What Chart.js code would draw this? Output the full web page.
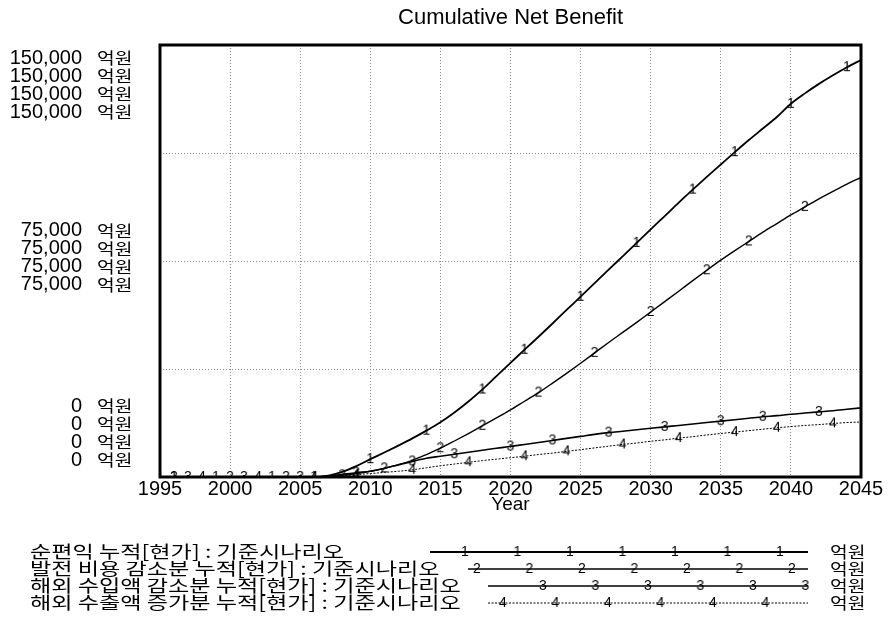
<!DOCTYPE html>
<html>
<head>
<meta charset="utf-8">
<script src="https://cdn.jsdelivr.net/npm/chart.js@4/dist/chart.umd.min.js"></script>
<style>
    html, body { margin: 0; padding: 0; background: #fff; }
</style>
</head>
<body>
<canvas id="chart" width="888" height="633"></canvas>
<script>
// ===================================
// CUMULATIVE NET BENEFIT (Vensim style)
// ===================================

const chartTitle = 'Cumulative Net Benefit';
const xTitle = 'Year';
const unitLabel = '억원';

const years = [
    1995, 1996, 1997, 1998, 1999, 2000, 2001, 2002, 2003, 2004,
    2005, 2006, 2007, 2008, 2009, 2010, 2011, 2012, 2013, 2014,
    2015, 2016, 2017, 2018, 2019, 2020, 2021, 2022, 2023, 2024,
    2025, 2026, 2027, 2028, 2029, 2030, 2031, 2032, 2033, 2034,
    2035, 2036, 2037, 2038, 2039, 2040, 2041, 2042, 2043, 2044,
    2045
];

const seriesNames = [
    '순편익 누적[현가] : 기준시나리오',
    '발전 비용 감소분 누적[현가] : 기준시나리오',
    '해외 수입액 감소분 누적[현가] : 기준시나리오',
    '해외 수출액 증가분 누적[현가] : 기준시나리오'
];

// values in 억원, one per year
const netBenefit = [
    0, 0, 0, 0, 0, 0, 0, 0, 0, 0,
    0, 0, 500, 1800, 3800, 6200, 8500, 10900, 13400, 16100,
    19000, 22400, 26200, 30400, 35000, 39600, 44200, 48700, 53300, 58000,
    62600, 67300, 72000, 76600, 81300, 86000, 90600, 95300, 99800, 104200,
    108500, 112800, 117000, 121000, 125000, 129600, 133200, 136500, 139500, 142300,
    144800
];
const genCostSaving = [
    0, 0, 0, 0, 0, 0, 0, 0, 0, 0,
    0, 0, 200, 600, 1200, 2000, 3000, 4300, 5800, 7800,
    10000, 12500, 15100, 17800, 20500, 23300, 26300, 29300, 32600, 36000,
    39500, 43100, 46700, 50200, 53700, 57300, 60900, 64500, 68200, 71800,
    75300, 78600, 81800, 85000, 88000, 91000, 93800, 96600, 99200, 101700,
    104000
];
const importSaving = [
    0, 0, 0, 0, 0, 0, 0, 0, 0, 0,
    0, 0, 300, 900, 1500, 2000, 3000, 4200, 5400, 6500,
    7200, 7900, 8600, 9300, 10000, 10600, 11300, 12000, 12700, 13400,
    14100, 14800, 15400, 15900, 16400, 16900, 17400, 17900, 18400, 18900,
    19400, 19900, 20400, 20900, 21300, 21800, 22200, 22600, 23000, 23500,
    24000
];
const exportGain = [
    0, 0, 0, 0, 0, 0, 0, 0, 0, 0,
    0, 0, 100, 400, 800, 1200, 1600, 2000, 2500, 3200,
    3900, 4500, 5100, 5700, 6200, 6700, 7200, 7800, 8300, 8900,
    9500, 10100, 10700, 11300, 11800, 12400, 12900, 13500, 14000, 14600,
    15100, 15600, 16100, 16600, 17100, 17500, 17900, 18200, 18600, 18900,
    19100
];

// years where the numbered markers sit on each line
const markerYears = [
    [1996, 1999, 2003, 2006, 2010, 2014, 2018, 2021, 2025, 2029, 2033, 2036, 2040, 2044],
    [1996, 2000, 2004, 2008, 2011, 2015, 2018, 2022, 2026, 2030, 2034, 2037, 2041],
    [1997, 2001, 2005, 2009, 2013, 2016, 2020, 2023, 2027, 2031, 2035, 2038, 2042],
    [1998, 2002, 2006, 2009, 2013, 2017, 2021, 2024, 2028, 2032, 2036, 2039, 2043]
];

const yTicks = [150000, 75000, 0];
const xTicks = [1995, 2000, 2005, 2010, 2015, 2020, 2025, 2030, 2035, 2040, 2045];

const FONT = '"Liberation Sans", "Noto Sans CJK KR", Arial, sans-serif';
const KFONT = '"Noto Sans CJK KR", "Liberation Sans", sans-serif';

// small canvas with a digit, used as point style
function makeDigit(d) {
    const c = document.createElement('canvas');
    c.width = 12;
    c.height = 16;
    const g = c.getContext('2d');
    g.fillStyle = '#000';
    g.font = '14px ' + FONT;
    g.textAlign = 'center';
    g.textBaseline = 'middle';
    g.fillText(String(d), 6, 8);
    return c;
}

const digits = [makeDigit(1), makeDigit(2), makeDigit(3), makeDigit(4)];
const allSeries = [netBenefit, genCostSaving, importSaving, exportGain];
const lineWidths = [1.8, 1.4, 1.6, 1];
const lineDashes = [[], [], [], [2, 1.5]];

const datasets = allSeries.map((values, i) => ({
    label: seriesNames[i],
    data: years.map((yr, j) => ({ x: yr, y: values[j] })),
    borderColor: '#000',
    borderWidth: lineWidths[i],
    borderDash: lineDashes[i],
    cubicInterpolationMode: 'monotone',
    pointStyle: digits[i],
    pointRadius: (ctx) => markerYears[i].includes(years[ctx.dataIndex]) ? 5 : 0,
    pointHoverRadius: 0,
    fill: false
}));

// draw text stretched horizontally
function wideText(ctx, text, x, y, sx) {
    ctx.save();
    ctx.translate(x, y);
    ctx.scale(sx, 1);
    ctx.fillText(text, 0, 0);
    ctx.restore();
}

// title, frame, stacked y labels and Vensim-like legend
const decorPlugin = {
    id: 'decor',
    afterDraw(chart) {
        const ctx = chart.ctx;
        const area = chart.chartArea;
        const yScale = chart.scales.y;
        const midX = (area.left + area.right) / 2;
        ctx.save();

        // title
        ctx.fillStyle = '#000';
        ctx.font = '22px ' + FONT;
        ctx.textAlign = 'center';
        ctx.textBaseline = 'middle';
        ctx.fillText(chartTitle, midX, 18);

        // x axis title
        ctx.font = '19px ' + FONT;
        ctx.fillText(xTitle, midX, 505);

        // frame
        ctx.strokeStyle = '#000';
        ctx.lineWidth = 3;
        ctx.strokeRect(area.left, area.top, area.right - area.left, area.bottom - area.top);

        // stacked y labels, one line per series
        const lineGap = 18;
        yTicks.forEach((v, k) => {
            const py = yScale.getPixelForValue(v);
            let firstY;
            if (k === 0) firstY = py + 13;
            else if (k === yTicks.length - 1) firstY = py - 17 - lineGap * 3;
            else firstY = py - 3.5 - lineGap * 1.5;
            for (let n = 0; n < allSeries.length; n++) {
                const ly = firstY + n * lineGap;
                ctx.font = '20px ' + FONT;
                ctx.textAlign = 'right';
                ctx.fillText(v.toLocaleString('en-US'), 82, ly);
                ctx.font = '16px ' + KFONT;
                ctx.textAlign = 'left';
                wideText(ctx, unitLabel, 97, ly, 1.2);
            }
        });

        // legend
        const legendY = [552, 569, 586, 603];
        const lineStart = [430, 468, 488, 488];
        const firstMarker = [465, 477, 543, 503];
        const lineEnd = 808;
        seriesNames.forEach((name, i) => {
            const ly = legendY[i];
            ctx.font = '17px ' + KFONT;
            ctx.textAlign = 'left';
            ctx.fillStyle = '#000';
            wideText(ctx, name, 30, ly, 1.36);

            ctx.beginPath();
            ctx.lineWidth = lineWidths[i];
            ctx.setLineDash(lineDashes[i]);
            ctx.moveTo(lineStart[i], ly);
            ctx.lineTo(lineEnd, ly);
            ctx.stroke();
            ctx.setLineDash([]);

            for (let mx = firstMarker[i]; mx <= lineEnd; mx += 52.5) {
                ctx.drawImage(digits[i], mx - 6, ly - 8);
            }

            ctx.font = '16px ' + KFONT;
            wideText(ctx, unitLabel, 830, ly, 1.2);
        });

        ctx.restore();
    }
};

new Chart(document.getElementById('chart'), {
    type: 'line',
    data: { datasets },
    options: {
        responsive: false,
        animation: false,
        layout: { padding: { top: 45, right: 27, left: 0, bottom: 0 } },
        plugins: {
            legend: { display: false },
            title: { display: false },
            tooltip: { enabled: false }
        },
        scales: {
            x: {
                type: 'linear',
                min: xTicks[0],
                max: xTicks[xTicks.length - 1],
                afterBuildTicks: (scale) => { scale.ticks = xTicks.map(v => ({ value: v })); },
                afterFit: (scale) => { scale.height = 633 - 477; },
                ticks: {
                    color: '#000',
                    font: { family: FONT, size: 20 },
                    padding: 0,
                    maxRotation: 0,
                    callback: (v) => String(v)
                },
                grid: { color: '#8a8a8a', lineWidth: 1, drawTicks: false },
                border: { display: false, dash: [1, 2] }
            },
            y: {
                min: 0,
                max: yTicks[0],
                afterBuildTicks: (scale) => {
                    scale.ticks = [0, 37500, 75000, 112500, 150000].map(v => ({ value: v }));
                },
                afterFit: (scale) => { scale.width = 160; },
                ticks: { display: false },
                grid: { color: '#8a8a8a', lineWidth: 1, drawTicks: false },
                border: { display: false, dash: [1, 2] }
            }
        }
    },
    plugins: [decorPlugin]
});
</script>
</body>
</html>
